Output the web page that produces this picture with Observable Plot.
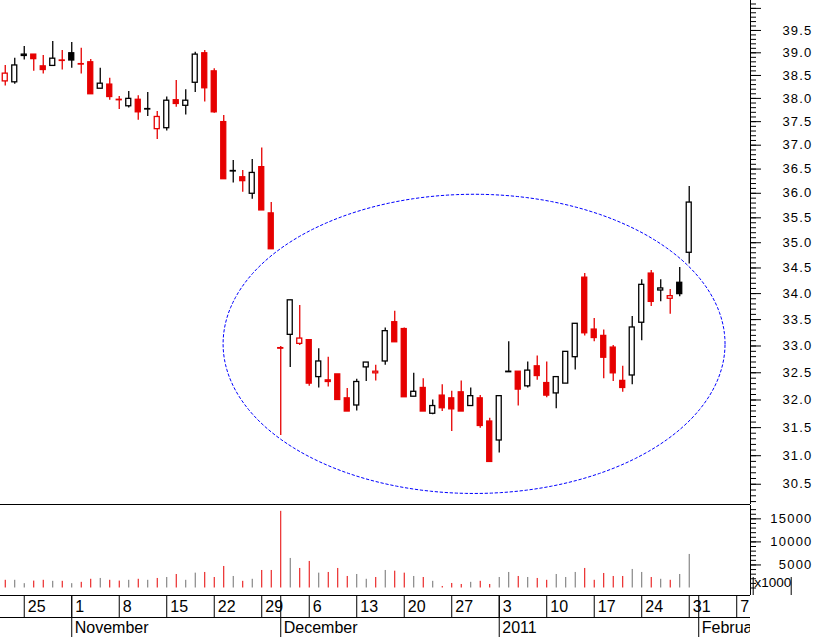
<!DOCTYPE html>
<html><head><meta charset="utf-8">
<script src="https://cdn.jsdelivr.net/npm/d3@7"></script>
<script src="https://cdn.jsdelivr.net/npm/@observablehq/plot@0.6"></script>
<style>
html,body{margin:0;padding:0;background:#fff;}
#chart svg{display:block;}
#chart g[aria-label="y-axis tick label"]{letter-spacing:1.2px;}
</style></head><body><div id="chart"></div>
<script>
// ---- data ----
const dates = [
 "2010-10-21","2010-10-22","2010-10-25","2010-10-26","2010-10-27","2010-10-28","2010-10-29",
 "2010-11-01","2010-11-02","2010-11-03","2010-11-04","2010-11-05","2010-11-08","2010-11-09","2010-11-10","2010-11-11","2010-11-12",
 "2010-11-15","2010-11-16","2010-11-17","2010-11-18","2010-11-19","2010-11-22","2010-11-23","2010-11-24","2010-11-25","2010-11-26",
 "2010-11-29","2010-11-30","2010-12-01","2010-12-02","2010-12-03","2010-12-06","2010-12-07","2010-12-08","2010-12-09","2010-12-10",
 "2010-12-13","2010-12-14","2010-12-15","2010-12-16","2010-12-17","2010-12-20","2010-12-21","2010-12-22","2010-12-23","2010-12-24",
 "2010-12-27","2010-12-28","2010-12-29","2010-12-30","2010-12-31","2011-01-03","2011-01-04","2011-01-05","2011-01-06","2011-01-07",
 "2011-01-10","2011-01-11","2011-01-12","2011-01-13","2011-01-14","2011-01-17","2011-01-18","2011-01-19","2011-01-20","2011-01-21",
 "2011-01-24","2011-01-25","2011-01-26","2011-01-27","2011-01-28","2011-01-31"];
const open = [38.37,38.35,38.93,38.96,38.70,38.71,38.83,38.99,38.75,38.79, 38.21,38.30,37.97,37.83,37.97,37.76,37.34,37.36,37.96,37.84,
 38.34,38.99,38.59,37.49,36.45,36.33,35.99,36.54,35.59,32.96, 33.21,33.04,33.11,32.42,32.36,32.47,32.03,31.90,32.60,32.49,
 32.71,33.45,33.32,32.06,32.22,31.75,32.08,32.03,32.14,31.89, 32.03,31.61,31.27,32.51,32.52,32.25,32.62,32.31,32.12,32.30,
 32.79,34.31,33.31,33.19,32.97,32.35,32.45,33.44,34.39,34.06, 33.90,34.21,34.80];
const high = [38.72,38.88,39.14,38.96,38.94,39.25,39.05,39.23,39.10,38.85, 38.66,38.44,38.04,38.15,38.06,38.13,37.72,38.03,38.39,38.19,
 39.01,39.05,38.65,37.63,36.68,36.47,36.70,36.94,35.81,32.99, 33.87,33.77,33.11,32.95,32.79,32.47,32.21,32.38,32.69,32.64,
 33.34,33.66,33.34,32.49,32.39,32.00,32.28,32.16,32.35,32.22, 32.08,31.67,32.07,33.08,32.52,32.70,32.81,32.70,32.42,32.89,
 33.42,34.39,33.52,33.30,33.01,32.62,33.56,34.27,34.45,34.27, 34.08,34.51,36.14];
const low = [38.27,38.31,38.84,38.59,38.53,38.71,38.62,38.66,38.53,38.09, 38.21,37.96,37.76,37.79,37.53,37.61,37.12,37.30,37.81,37.64,
 38.13,37.92,37.68,36.29,36.21,36.02,35.88,35.65,34.87,31.36, 32.60,33.01,32.25,32.22,32.24,32.00,31.79,31.80,32.34,32.35,
 32.64,33.07,32.05,32.06,31.79,31.73,31.79,31.43,31.79,31.89, 31.49,30.89,31.05,32.51,31.89,32.22,32.36,32.04,31.84,32.30,
 32.55,33.19,33.08,32.39,32.34,32.14,32.28,33.10,33.75,33.84, 33.60,33.94,34.58];
const close = [38.54,38.72,38.96,38.86,38.62,38.87,38.82,38.83,38.74,38.09, 38.32,38.03,37.96,37.99,37.70,37.77,37.60,37.95,37.88,37.95,
 38.96,38.22,37.70,36.29,36.46,36.25,36.42,35.65,34.87,32.95, 33.87,33.14,32.30,32.71,32.33,32.00,31.79,32.33,32.69,32.52,
 33.28,33.07,32.05,32.15,31.79,31.89,31.85,31.83,31.79,32.07, 31.53,30.89,32.07,32.52,32.19,32.54,32.44,32.08,32.42,32.89,
 33.42,33.24,33.15,32.78,32.49,32.22,33.35,34.17,33.84,34.10, 33.95,33.99,35.81];
const volume = [1670,1670,940,1500,1670,1450,1450,940,1230,1890, 2070,1670,1500,1670,1890,1670,2070,2280,2930,1670,
 3220,3370,2280,4670,2500,1450,1890,3800,3800,16630, 6410,4240,5760,3220,3370,4240,2500,2930,1890,2280,
 3800,3650,3220,2500,2280,1450,330,980,760,1230, 1450,760,2280,3370,2500,2280,2070,1670,2930,2280,
 3370,4240,1670,3150,2500,2500,4020,3370,2280,1890, 1670,2930,7280];
const closeBeforeFirst = 38.60;

const weekTickDates = ["2010-10-25","2010-11-01","2010-11-08","2010-11-15","2010-11-22","2010-11-29","2010-12-06","2010-12-13",
 "2010-12-20","2010-12-27","2011-01-03","2011-01-10","2011-01-17","2011-01-24","2011-01-31","2011-02-07"];
const weekTickLabels = ["25","1","8","15","22","29","6","13","20","27","3","10","17","24","31","7"];
const monthStartDates = ["2010-11-01","2010-12-01","2011-01-03","2011-02-01"];
const monthLabels = ["November","December","2011","February"];
const priceTicks = [30.5,31.0,31.5,32.0,32.5,33.0,33.5,34.0,34.5,35.0,35.5,36.0,36.5,37.0,37.5,38.0,38.5,39.0,39.5,40.0];
const volumeTicks = [5000,10000,15000];

// ---- annotation (dotted ellipse, in date-index / price space) ----
const ellipseCenterIndex = 49.35, ellipseHalfWidth = 26.42, ellipseTop = 35.98, ellipseBottom = 30.34;

// ---- helpers ----
const t0 = new Date(dates[0] + "T00:00:00Z");
function tradingIndex(s) {
  const t = new Date(s + "T00:00:00Z"); let n = 0;
  for (let d = new Date(t0); d < t; d.setUTCDate(d.getUTCDate() + 1)) {
    const w = d.getUTCDay(); if (w !== 0 && w !== 6) n++;
  }
  return n;
}
const RED = "#e60000", BLACK = "#000000", GRAY = "#707070";
const candles = dates.map((d, k) => {
  const prev = k === 0 ? closeBeforeFirst : close[k - 1];
  const down = close[k] < prev;
  return {i: tradingIndex(d), open: open[k], high: high[k], low: low[k], close: close[k], vol: volume[k],
          down, color: down ? RED : BLACK, hollow: close[k] >= open[k]};
});
const weekTicks = weekTickDates.map((d, k) => ({i: tradingIndex(d), label: weekTickLabels[k]}));
const monthStarts = monthStartDates.map((d, k) => ({i: tradingIndex(d), label: monthLabels[k]}));

const cL = (Math.log(ellipseTop) + Math.log(ellipseBottom)) / 2;
const rL = (Math.log(ellipseTop) - Math.log(ellipseBottom)) / 2;
const ellipse = d3.range(0, 361, 2).map(a => {
  const t = a * Math.PI / 180;
  return {i: ellipseCenterIndex + ellipseHalfWidth * Math.cos(t), p: Math.exp(cL + rL * Math.sin(t))};
});

const W = 817, MR = 67;
const xDomain = [-0.5, 78.45];
const priceDomain = [30.15, 40.18];
const volDomain = [-1627, 17896];
const bw = 0.263;
const font = "'Liberation Sans', Arial, Helvetica, sans-serif";

const price = Plot.plot({
  width: W, height: 505, marginLeft: 0, marginRight: MR, marginTop: 0, marginBottom: 1,
  x: {type: "linear", domain: xDomain, axis: null},
  y: {type: "log", domain: priceDomain, axis: null},
  color: {type: "identity"},
  style: {fontSize: "13px", fontFamily: font, background: "#fff", color: "#000"},
  marks: [
    Plot.axisY({ticks: d3.range(302, 402).map(v => v / 10), anchor: "right", tickSize: 5, tickFormat: () => "", label: null}),
    Plot.axisY({ticks: priceTicks, anchor: "right", tickSize: 10, tickPadding: 52, textAnchor: "end", label: null,
                tickFormat: d => d >= 40 ? "" : d.toFixed(1)}),
    Plot.ruleX([xDomain[1]], {stroke: "#000"}),
    Plot.ruleY([priceDomain[0]], {stroke: "#000"}),
    Plot.line(ellipse, {x: "i", y: "p", stroke: "#0000ff", strokeWidth: 1, strokeDasharray: "2.5,2.5"}),
    Plot.ruleX(candles, {x: "i", y1: "low", y2: "high", stroke: "color", strokeWidth: 1.3}),
    Plot.rect(candles, {x1: d => d.i - bw, x2: d => d.i + bw, y1: "open", y2: "close",
      fill: d => d.hollow ? "#ffffff" : d.color, stroke: "color", strokeWidth: 1.3})
  ]
});

const vol = Plot.plot({
  width: W, height: 90, marginLeft: 0, marginRight: MR, marginTop: 0, marginBottom: 0,
  x: {type: "linear", domain: xDomain, axis: null},
  y: {type: "linear", domain: volDomain, axis: null},
  color: {type: "identity"},
  style: {fontSize: "13px", fontFamily: font, background: "#fff", color: "#000"},
  marks: [
    Plot.axisY({ticks: d3.range(0, 18000, 1000), anchor: "right", tickSize: 5, tickFormat: () => "", label: null}),
    Plot.axisY({ticks: volumeTicks, anchor: "right", tickSize: 10, tickPadding: 52, textAnchor: "end", label: null,
                tickFormat: d => String(d)}),
    Plot.ruleX([xDomain[1]], {stroke: "#000"}),
    Plot.ruleX(candles, {x: "i", y1: 0, y2: "vol", stroke: d => d.down ? RED : GRAY, strokeWidth: 1}),
    Plot.ruleX([xDomain[1]], {dx: 2.7, y1: volDomain[0], y2: 2280, stroke: "#000"}),
    Plot.ruleX([xDomain[1]], {dx: 40.7, y1: volDomain[0], y2: 2280, stroke: "#000"}),
    Plot.text(["x1000"], {frameAnchor: "bottom-right", text: d => d, dx: 4, dy: -8.3, textAnchor: "start", fontSize: 13.5})
  ]
});

const dateAxis = Plot.plot({
  width: W, height: 42, marginLeft: 0, marginRight: MR, marginTop: 0, marginBottom: 0,
  x: {type: "linear", domain: xDomain, axis: null},
  y: {type: "linear", domain: [0, 42], range: [0, 42], axis: null},
  style: {fontSize: "16px", fontFamily: font, background: "#fff", color: "#000"},
  marks: [
    Plot.ruleY([0, 22], {stroke: "#000"}),
    Plot.ruleX(weekTicks, {x: "i", y1: 0, y2: 22, stroke: "#000"}),
    Plot.ruleX(monthStarts, {x: "i", y1: 0, y2: 42, stroke: "#000"}),
    Plot.text(weekTicks, {x: "i", y: 11.3, text: "label", dx: 3.5, textAnchor: "start", fontSize: 16, fill: "#000", clip: true}),
    Plot.text(monthStarts, {x: "i", y: 32.3, text: "label", dx: 3, textAnchor: "start", fontSize: 16, fill: "#000", clip: true})
  ]
});

const root = document.getElementById("chart");
root.append(price, vol, dateAxis);
</script></body></html>
